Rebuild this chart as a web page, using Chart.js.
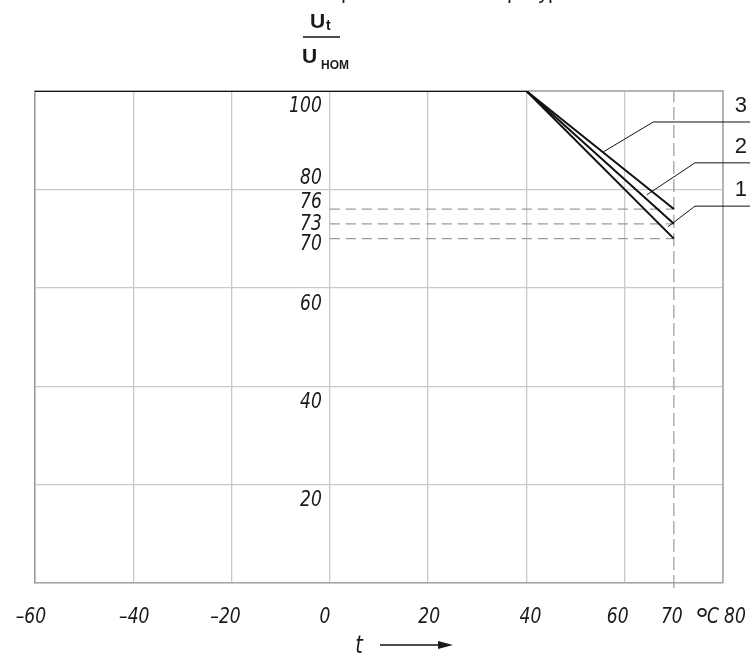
<!DOCTYPE html>
<html>
<head>
<meta charset="utf-8">
<title>Зависимость напряжения от температуры</title>
<script src="https://cdn.jsdelivr.net/npm/chart.js@4/dist/chart.umd.min.js"></script>
<style>
html, body { margin: 0; padding: 0; background: #fff; }
#wrap { width: 750px; height: 657px; }
</style>
</head>
<body>
<div id="wrap"><canvas id="myChart"></canvas></div>
<script>
// temperature, deg C
var temps = [-60, 40, 70];
// U_t / U_nom, %
var curve1 = [100, 100, 70];
var curve2 = [100, 100, 73];
var curve3 = [100, 100, 76];
var curveNames = ['1', '2', '3'];
var refLevels = [76, 73, 70];
var refTemp = 70;
var xTicks = [-60, -40, -20, 0, 20, 40, 60, 70, 80];
var yTicks = [100, 80, 76, 73, 70, 60, 40, 20];

var tickFont = 'italic 22px "DejaVu Sans", sans-serif';

function points(ys){
	var out = [];
	for(var i in temps){
		out.push({x: temps[i], y: ys[i]});
	}
	return out;
}

// narrow drafting-style text: squeeze the glyphs horizontally
function narrowText(ctx, txt, x, y, align){
	ctx.save();
	ctx.translate(x, y);
	ctx.scale(0.78, 1);
	ctx.textAlign = align;
	ctx.fillText(txt, 0, 0);
	ctx.restore();
}

var datasets = [];
var curves = [curve1, curve2, curve3];
for(var i in curves){
	datasets.push({
		label: curveNames[i],
		data: points(curves[i]),
		borderColor: '#111',
		borderWidth: 2,
		pointRadius: 0,
		showLine: true,
		fill: false
	});
}
for(var j in refLevels){
	datasets.push({
		label: 'ref' + refLevels[j],
		data: [{x: 0, y: refLevels[j]}, {x: refTemp, y: refLevels[j]}],
		borderColor: '#9a9a9a',
		borderWidth: 1.2,
		borderDash: [10, 6],
		pointRadius: 0,
		showLine: true
	});
}
datasets.push({
	label: 'ref' + refTemp,
	data: [{x: refTemp, y: -1}, {x: refTemp, y: 100}],
	borderColor: '#9a9a9a',
	borderWidth: 1.2,
	borderDash: [13, 5],
	pointRadius: 0,
	showLine: true,
	clip: false
});

var decor = {
	id: 'decor',
	beforeDatasetsDraw: function(chart){
		var ctx = chart.ctx, a = chart.chartArea;
		ctx.save();
		ctx.strokeStyle = '#a6a6a6';
		ctx.lineWidth = 1.5;
		ctx.beginPath();
		ctx.moveTo(a.left, a.top);
		ctx.lineTo(a.right, a.top);
		ctx.lineTo(a.right, a.bottom);
		ctx.stroke();
		ctx.restore();
	},
	afterDraw: function(chart){
		var ctx = chart.ctx, xs = chart.scales.x, ys = chart.scales.y;
		ctx.save();
		ctx.fillStyle = '#1a1a1a';

		// y labels sit next to the 0 degree line
		var yOff = {100: 15, 80: -11, 76: -7, 73: 0, 70: 6, 60: 16, 40: 16, 20: 16};
		ctx.font = tickFont;
		ctx.textBaseline = 'middle';
		for(var i in yTicks){
			var v = yTicks[i];
			narrowText(ctx, String(v), xs.getPixelForValue(0) - 8, ys.getPixelForValue(v) + yOff[v], 'right');
		}

		// x labels
		var xOff = {'-60': -4, '-40': 1, '-20': -6, '0': -5, '20': 1, '40': 4, '60': -7, '70': -2, '80': 12};
		var ly = ys.getPixelForValue(0) + 34;
		for(var k in xTicks){
			var t = xTicks[k];
			narrowText(ctx, String(t).replace('-', '\u2013'), xs.getPixelForValue(t) + xOff[t], ly, 'center');
		}
		narrowText(ctx, 'C', 713, ly, 'center');
		ctx.font = '34px "Liberation Sans", Arial, sans-serif';
		ctx.textAlign = 'center';
		ctx.fillText('\u00B0', 702, ly + 5);

		// x title with arrow
		ctx.font = 'italic 25px "DejaVu Sans", sans-serif';
		narrowText(ctx, 't', 359, 646, 'center');
		ctx.strokeStyle = '#111';
		ctx.lineWidth = 1.3;
		ctx.beginPath();
		ctx.moveTo(380, 645);
		ctx.lineTo(440, 645);
		ctx.stroke();
		ctx.beginPath();
		ctx.moveTo(453, 645);
		ctx.lineTo(438, 641);
		ctx.lineTo(438, 649);
		ctx.closePath();
		ctx.fill();

		// curve leaders and numbers
		var leaders = [
			{name: '1', x: [68.8, 74.3], y: [72.4, 76.6]},
			{name: '2', x: [64.5, 74.3], y: [78.9, 85.4]},
			{name: '3', x: [55.6, 65.8], y: [87.6, 93.7]}
		];
		ctx.lineWidth = 1;
		ctx.font = '22px "Liberation Sans", Arial, sans-serif';
		ctx.textAlign = 'right';
		ctx.textBaseline = 'alphabetic';
		for(var n in leaders){
			var L = leaders[n];
			var y1 = ys.getPixelForValue(L.y[1]);
			ctx.beginPath();
			ctx.moveTo(xs.getPixelForValue(L.x[0]), ys.getPixelForValue(L.y[0]));
			ctx.lineTo(xs.getPixelForValue(L.x[1]), y1);
			ctx.lineTo(chart.width, y1);
			ctx.stroke();
			ctx.fillText(L.name, 747, y1 - 10);
		}

		// title (cut at the top edge)
		ctx.textAlign = 'center';
		ctx.font = '20px "Liberation Sans", Arial, sans-serif';
		ctx.fillText('Зависимость напряжения от температуры', 378, -1);

		// y title as fraction
		ctx.textAlign = 'left';
		ctx.font = 'bold 21px "Liberation Sans", Arial, sans-serif';
		ctx.fillText('U', 310, 28);
		ctx.fillText('U', 302, 63);
		ctx.font = 'bold 14px "Liberation Sans", Arial, sans-serif';
		ctx.fillText('t', 326, 30);
		ctx.font = 'bold 12px "Liberation Sans", Arial, sans-serif';
		ctx.fillText('НОМ', 321, 69);
		ctx.lineWidth = 1.3;
		ctx.beginPath();
		ctx.moveTo(303, 37);
		ctx.lineTo(340, 37);
		ctx.stroke();

		ctx.restore();
	}
};

var ctx = document.getElementById('myChart');

var chart = new Chart(ctx, {
	type: 'scatter',
	data: {datasets: datasets},
	options: {
		responsive: true,
		maintainAspectRatio: false,
		animation: false,
		layout: {padding: {left: 35, top: 91, right: 27, bottom: 74}},
		plugins: {legend: {display: false}, tooltip: {enabled: false}},
		elements: {line: {tension: 0}},
		scales: {
			x: {
				type: 'linear',
				min: -60,
				max: 80,
				ticks: {display: false, stepSize: 20},
				grid: {color: '#c9c9c9', lineWidth: 1.3, drawTicks: false},
				border: {color: '#a6a6a6', width: 1.5}
			},
			y: {
				type: 'linear',
				min: 0,
				max: 100,
				ticks: {display: false, stepSize: 20},
				grid: {color: '#c9c9c9', lineWidth: 1.3, drawTicks: false},
				border: {color: '#999', width: 1.5}
			}
		}
	},
	plugins: [decor]
});
</script>
</body>
</html>
